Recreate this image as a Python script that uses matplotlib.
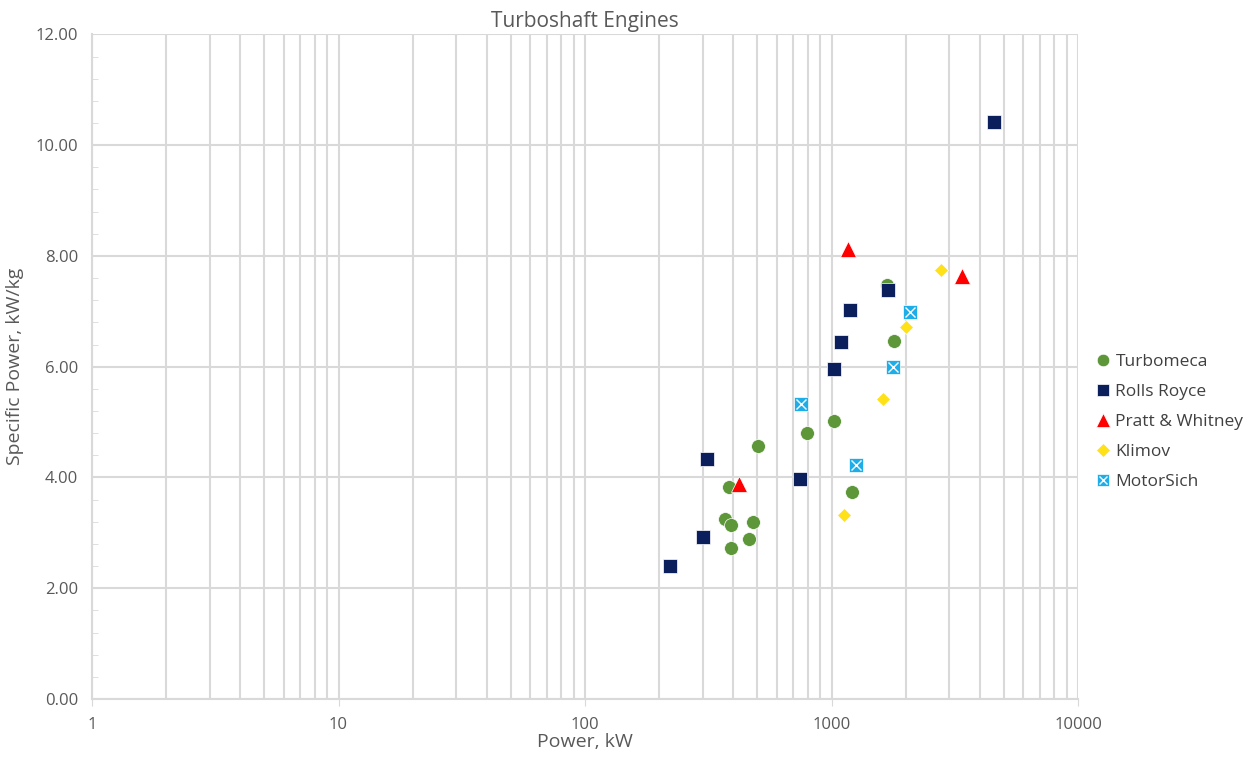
import matplotlib
matplotlib.use("Agg")
import matplotlib.pyplot as plt
from matplotlib.ticker import FixedLocator, FuncFormatter, MultipleLocator
import numpy as np

# values (power kW, specific power kW/kg)
turbomeca_kw = [505, 385, 371, 391, 480, 464, 391, 795, 1026, 1214, 1800, 1680]
turbomeca_sp = [4.57, 3.82, 3.25, 3.14, 3.19, 2.89, 2.72, 4.81, 5.02, 3.73, 6.46, 7.48]

rr_kw = [313, 300, 221, 747, 1020, 1097, 1192, 1695, 4580]
rr_sp = [4.34, 2.93, 2.41, 3.97, 5.96, 6.45, 7.03, 7.39, 10.41]

pw_kw = [420, 1170, 3388]
pw_sp = [3.88, 8.12, 7.64]

klimov_kw = [1119, 1614, 2014, 2785]
klimov_sp = [3.32, 5.42, 6.71, 7.75]

ms_kw = [752, 1778, 2075, 1262]
ms_sp = [5.32, 5.99, 6.98, 4.23]

grey = '#595959'
grid = '#D9D9D9'
plt.rcParams['font.family'] = ['Open Sans', 'DejaVu Sans']

fig = plt.figure(figsize=(12.45, 7.57), dpi=100)
ax = fig.add_axes([0.0739, 0.0766, 0.792, 0.878])

ax.set_xscale('log')
ax.set_xlim(1, 10000)
ax.set_ylim(0, 12)

ms = 10
h1, = ax.plot(turbomeca_kw, turbomeca_sp, 'o', ms=ms, color='#5E973A',
              mec='white', mew=0.5, ls='none', zorder=3)
h2, = ax.plot(rr_kw, rr_sp, 's', ms=ms, color='#0B1F5C',
              mec='white', mew=0.5, ls='none', zorder=3)
h3, = ax.plot(pw_kw, pw_sp, '^', ms=ms + 1, color='#FF0000',
              mec='white', mew=0.5, ls='none', zorder=3)
h4, = ax.plot(klimov_kw, klimov_sp, 'D', ms=7.5, color='#FFE11A',
              mec='white', mew=0.5, ls='none', zorder=3)
h5a, = ax.plot(ms_kw, ms_sp, 's', ms=ms, color='#1DADE8',
               mec='white', mew=0.5, ls='none', zorder=3)
h5b, = ax.plot(ms_kw, ms_sp, 'x', ms=ms - 3, color='white',
               mew=1.0, ls='none', zorder=4)

# grid: every log step vertically, every 2 horizontally
vlines = [m * 10 ** e for e in range(0, 4) for m in range(1, 10)] + [10000]
ax.xaxis.set_major_locator(FixedLocator([1, 10, 100, 1000, 10000]))
ax.xaxis.set_minor_locator(FixedLocator([v for v in vlines if v not in (1, 10, 100, 1000, 10000)]))
ax.xaxis.set_major_formatter(FuncFormatter(lambda v, p: '%d' % v))
ax.xaxis.set_minor_formatter(FuncFormatter(lambda v, p: ''))
ax.grid(True, which='both', axis='x', color=grid, lw=1.5)
ax.yaxis.set_major_locator(MultipleLocator(2))
ax.yaxis.set_minor_locator(MultipleLocator(0.4))
ax.yaxis.set_major_formatter(FuncFormatter(lambda v, p: '%.2f' % v))
ax.grid(True, which='major', axis='y', color=grid, lw=1.5)
ax.set_axisbelow(True)

for s in ('top', 'right'):
    ax.spines[s].set_visible(False)
for s in ('left', 'bottom'):
    ax.spines[s].set_color(grid)
    ax.spines[s].set_linewidth(1.5)

ax.tick_params(axis='x', which='major', length=5, color=grid, colors=grey,
               labelsize=12, pad=8)
ax.tick_params(axis='x', which='minor', length=0)
ax.tick_params(axis='y', which='major', length=0, colors=grey, labelsize=12, pad=10)
ax.tick_params(axis='y', which='minor', length=4, color=grid, direction='in')

ax.set_xlabel('Power, kW', color=grey, fontsize=14, labelpad=0)
ax.set_ylabel('Specific Power, kW/kg', color=grey, fontsize=14, labelpad=8)
ax.set_title('Turboshaft Engines', color=grey, fontsize=15, pad=5)

leg = fig.legend([h1, h2, h3, h4, (h5a, h5b)],
                 ['Turbomeca', 'Rolls Royce', 'Pratt & Whitney', 'Klimov', 'MotorSich'],
                 loc='upper left', bbox_to_anchor=(0.868, 0.553), frameon=False,
                 fontsize=12.5, handlelength=0.8, handletextpad=0.3,
                 labelspacing=0.8, markerscale=0.9)
for t in leg.get_texts():
    t.set_color('#404040')

plt.savefig('out.png', dpi=100)
